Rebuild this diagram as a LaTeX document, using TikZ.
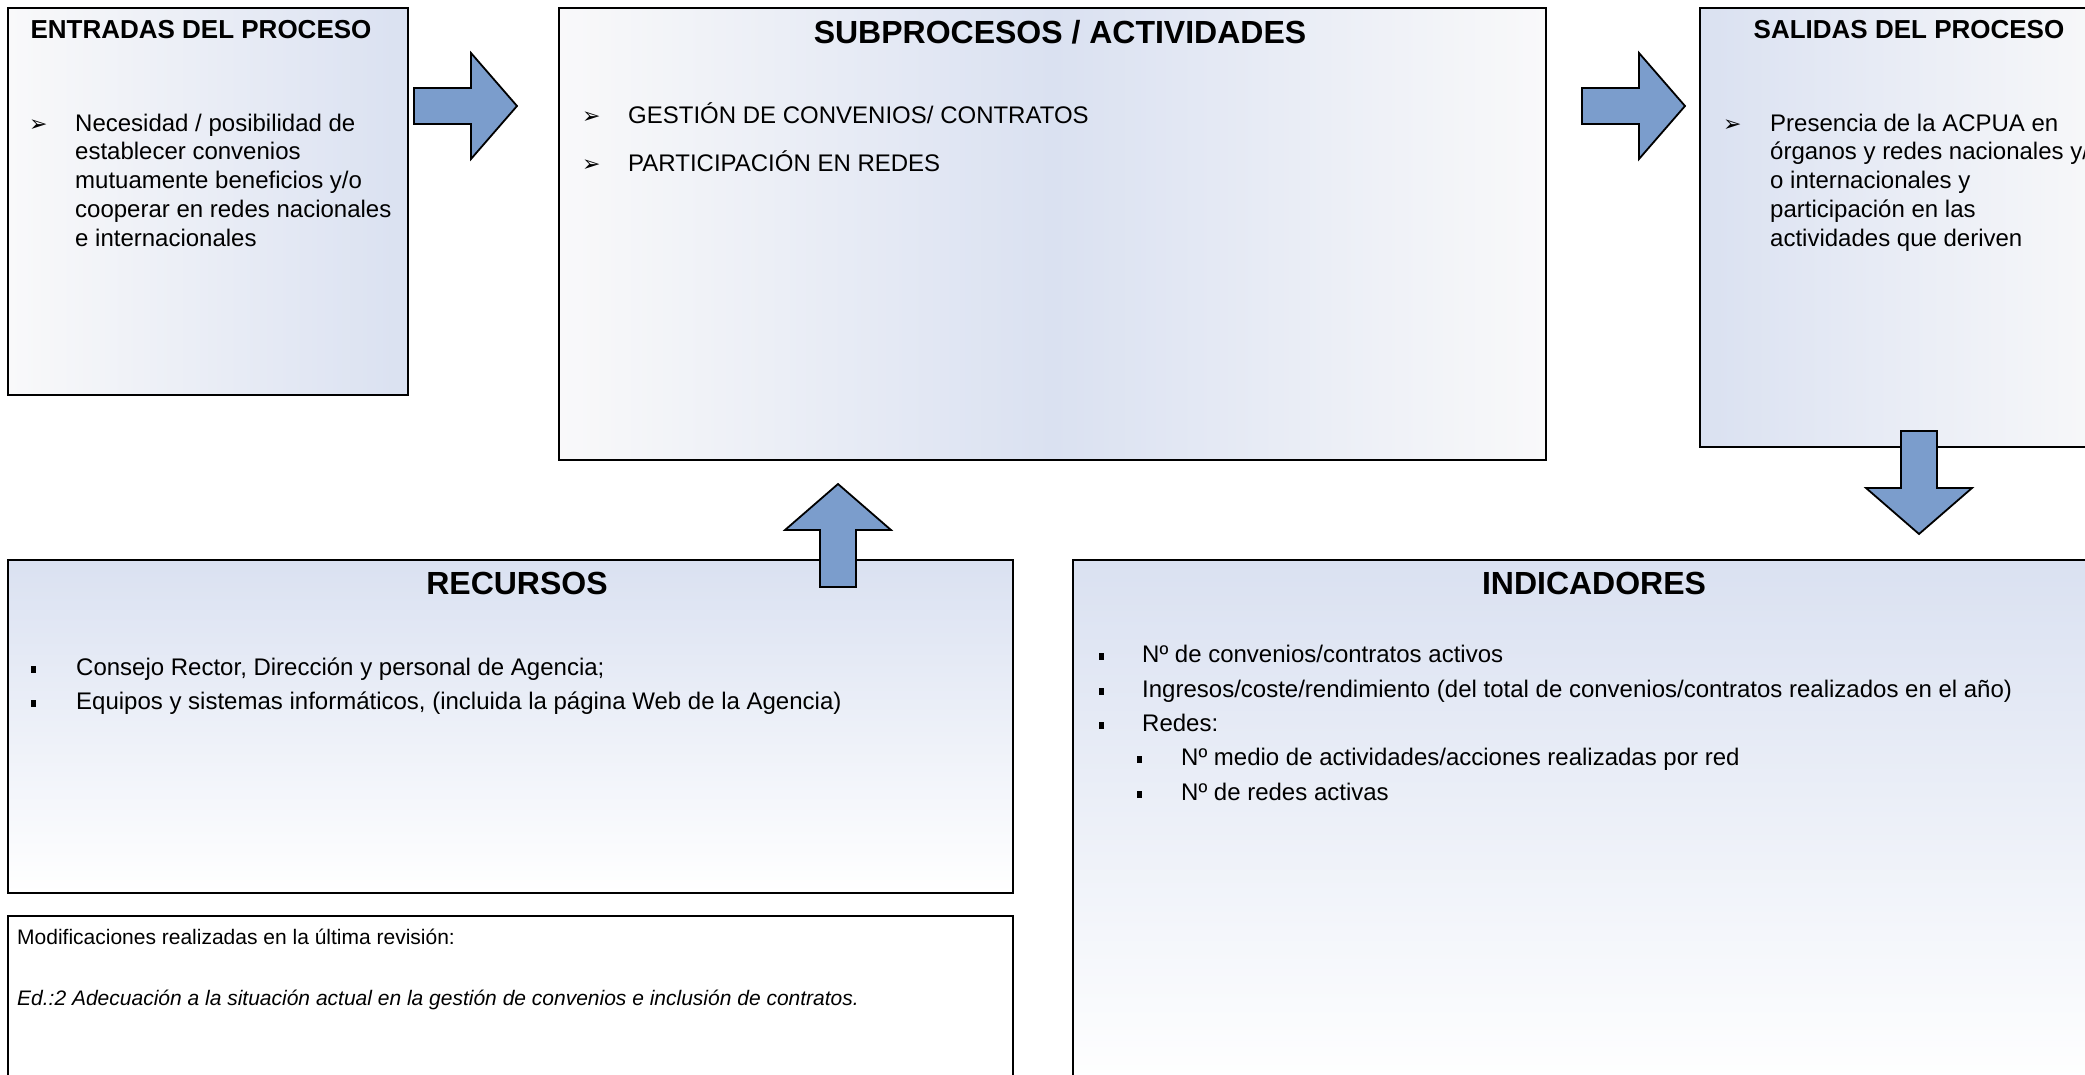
\documentclass[tikz,border=0pt]{standalone}
\usepackage{fontspec}
\setmainfont{Liberation Sans}
\newfontfamily\dingfont{DejaVu Sans}
\usepackage{xcolor}
\usetikzlibrary{positioning}

\definecolor{boxblue}{RGB}{218,225,241}
\definecolor{boxwhite}{RGB}{249,249,250}
\definecolor{arrowblue}{RGB}{123,157,204}

\tikzset{
  blockarr/.pic={
    \draw[arrowbody] (0,-18) -- (57,-18) -- (57,-53) -- (103,0) -- (57,53) -- (57,18) -- (0,18) -- cycle;
  }
}

\begin{document}
\begin{tikzpicture}[x=1pt, y=-1pt,
    procbox/.style={draw, line width=1.8pt, anchor=north west, inner sep=0pt},
    arrowbody/.style={draw, fill=arrowblue, line width=1.8pt, line join=miter},
    titlesmall/.style={font=\fontsize{26}{30}\selectfont\bfseries, anchor=base, inner sep=0pt},
    titlebig/.style={font=\fontsize{32}{36}\selectfont\bfseries, anchor=base, inner sep=0pt},
    itemtext/.style={font=\fontsize{24}{28.7}\selectfont, anchor=base west, inner sep=0pt, align=left},
    dingbullet/.style={font=\dingfont\fontsize{22}{24}\selectfont, anchor=base west, inner sep=0pt},
    sqbullet/.style={anchor=base west, inner sep=0pt},
    notetext/.style={font=\fontsize{21}{25}\selectfont, anchor=base west, inner sep=0pt}]

    \path[use as bounding box, fill=white] (0,0) rectangle (2085,1074);

    \node[procbox, minimum width=400pt, minimum height=387pt, left color=boxwhite, right color=boxblue] (ent) at (7,7) {};
    \node[procbox, minimum width=987pt, minimum height=452pt, left color=boxwhite, right color=boxwhite, middle color=boxblue] (sub) at (558,7) {};
    \node[procbox, minimum width=419pt, minimum height=439pt, left color=boxblue, right color=boxwhite] (sal) at (1699,7) {};
    \node[procbox, minimum width=1005pt, minimum height=333pt, top color=boxblue, bottom color=white] (rec) at (7,559) {};
    \node[procbox, minimum width=1005pt, minimum height=175pt, fill=white] (mod) at (7,915) {};
    \node[procbox, minimum width=1046pt, minimum height=531pt, top color=boxblue, bottom color=white] (ind) at (1072,559) {};

    \pic (arrA) at (414,106) {blockarr};
    \pic (arrB) at (1582,106) {blockarr};
    \pic[rotate=90] (arrC) at (838,587) {blockarr};
    \pic[rotate=-90] (arrD) at (1919,431) {blockarr};

    \node[titlesmall] (entT) at (201,38) {ENTRADAS DEL PROCESO};
    \node[dingbullet] (entB) at (29,131) {➢};
    \node[itemtext] (entI) at (75,246) {Necesidad / posibilidad de\\establecer convenios\\mutuamente beneficios y/o\\cooperar en redes nacionales\\e internacionales};

    \node[titlebig] (subT) at (1060,43) {SUBPROCESOS / ACTIVIDADES};
    \node[dingbullet] (subB1) at (582,123) {➢};
    \node[itemtext] (subI1) at (628,123) {GESTIÓN DE CONVENIOS/ CONTRATOS};
    \node[dingbullet] (subB2) at (582,171) {➢};
    \node[itemtext] (subI2) at (628,171) {PARTICIPACIÓN EN REDES};

    \node[titlesmall] (salT) at (1909,38) {SALIDAS DEL PROCESO};
    \node[dingbullet] (salB) at (1723,131) {➢};
    \node[itemtext] (salI) at (1770,246) {Presencia de la ACPUA en\\órganos y redes nacionales y/\\o internacionales y\\participación en las\\actividades que deriven};

    \node[titlebig] (recT) at (517,594) {RECURSOS};
    \node[sqbullet] (recB1) at (31,675) {\rule[2.5pt]{5pt}{7pt}};
    \node[itemtext] (recI1) at (76,675) {Consejo Rector, Dirección y personal de Agencia;};
    \node[sqbullet] (recB2) at (31,709) {\rule[2.5pt]{5pt}{7pt}};
    \node[itemtext] (recI2) at (76,709) {Equipos y sistemas informáticos, (incluida la página Web de la Agencia)};

    \node[notetext] (modL1) at (17,944) {Modificaciones realizadas en la última revisión:};
    \node[notetext, font=\fontsize{21}{25}\selectfont\itshape] (modL2) at (17,1005) {Ed.:2 Adecuación a la situación actual en la gestión de convenios e inclusión de contratos.};

    \node[titlebig] (indT) at (1594,594) {INDICADORES};
    \node[sqbullet] (indB1) at (1099,662) {\rule[2.5pt]{5pt}{7pt}};
    \node[itemtext] (indI1) at (1142,662) {Nº de convenios/contratos activos};
    \node[sqbullet] (indB2) at (1099,697) {\rule[2.5pt]{5pt}{7pt}};
    \node[itemtext] (indI2) at (1142,697) {Ingresos/coste/rendimiento (del total de convenios/contratos realizados en el año)};
    \node[sqbullet] (indB3) at (1099,731) {\rule[2.5pt]{5pt}{7pt}};
    \node[itemtext] (indI3) at (1142,731) {Redes:};
    \node[sqbullet] (indB4) at (1137,765) {\rule[2.5pt]{5pt}{7pt}};
    \node[itemtext] (indI4) at (1181,765) {Nº medio de actividades/acciones realizadas por red};
    \node[sqbullet] (indB5) at (1137,800) {\rule[2.5pt]{5pt}{7pt}};
    \node[itemtext] (indI5) at (1181,800) {Nº de redes activas};
\end{tikzpicture}
\end{document}
